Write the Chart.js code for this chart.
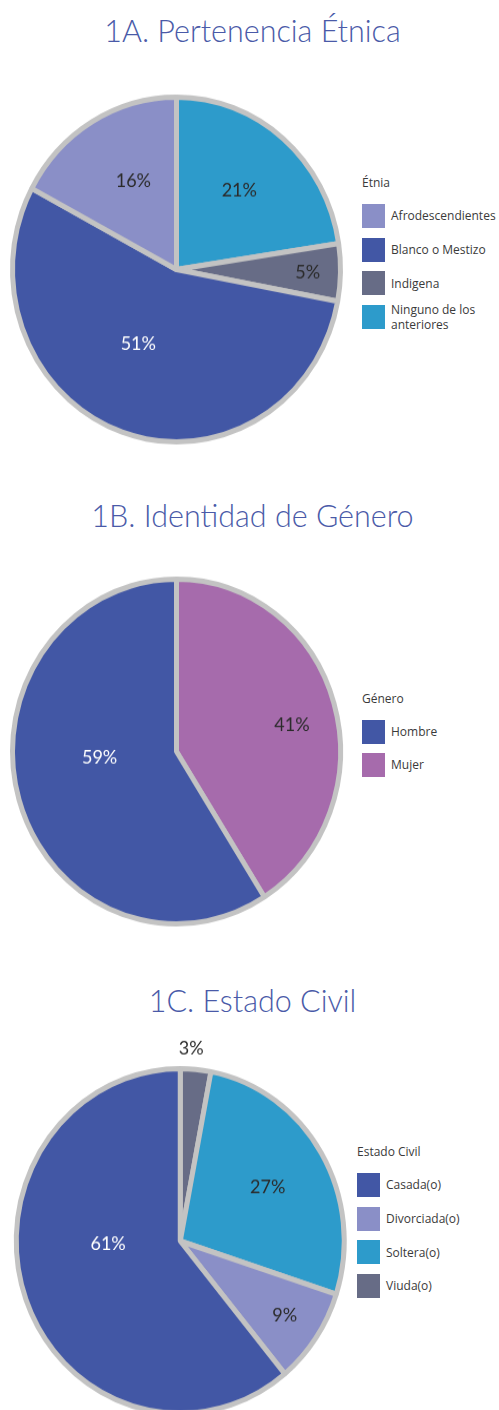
<!DOCTYPE html>
<html>
<head>
<meta charset="utf-8">
<script src="https://cdn.jsdelivr.net/npm/chart.js@4"></script>
<style>
  body { margin: 0; width: 499px; height: 1410px; overflow: hidden; position: relative; background: #fff; font-family: 'Open Sans', sans-serif; }
  .titulo { position: absolute; left: 0; width: 505px; margin: 0; text-align: center; font-family: Lato, sans-serif; font-weight: 300; font-size: 30.5px; line-height: 34px; color: #4a5aa8; }
  canvas { position: absolute; transform-origin: 0 0; transform: scaleY(1.051); }
  .leyenda { position: absolute; font-size: 12px; color: #3a3a3a; width: 140px; }
  .leyenda .tit { height: 20px; line-height: 20px; margin-bottom: 6px; }
  .item { display: flex; align-items: center; }
  .caja { width: 23px; height: 24px; margin-right: 6px; flex: none; }
  .texto { max-width: 110px; line-height: 15px; white-space: normal; }
</style>
</head>
<body>
<h2 class="titulo" style="top:13px">1A. Pertenencia Étnica</h2>
<canvas id="etnia" width="353" height="353" style="left:0;top:83.5px"></canvas>
<div class="leyenda" id="leyEtnia" style="left:362px;top:173px"></div>

<h2 class="titulo" style="top:498px">1B. Identidad de Género</h2>
<canvas id="genero" width="353" height="353" style="left:0;top:565.5px"></canvas>
<div class="leyenda" id="leyGenero" style="left:362px;top:689px"></div>

<h2 class="titulo" style="top:983px">1C. Estado Civil</h2>
<canvas id="civil" width="357" height="383" style="left:0;top:1024px"></canvas>
<div class="leyenda" id="leyCivil" style="left:357px;top:1142px"></div>

<script>
// datos (orden de dibujo, en sentido horario desde arriba)
const etniaLabels = ['Ninguno de los anteriores', 'Indigena', 'Blanco o Mestizo', 'Afrodescendientes'];
const etniaValues = [21, 5, 51, 16];

const generoLabels = ['Mujer', 'Hombre'];
const generoValues = [41, 59];

const civilLabels = ['Viuda(o)', 'Soltera(o)', 'Divorciada(o)', 'Casada(o)'];
const civilValues = [3, 27, 9, 61];

// colores
const AZUL = '#4257a5', LILA = '#8a8fc7', GRIS = '#676c86', CIAN = '#2d9bcb', ROSA = '#a66bac';

// plugin para los porcentajes sobre las porciones
const etiquetas = {
  id: 'etiquetas',
  afterDatasetsDraw(chart, args, opts) {
    const ctx = chart.ctx;
    const meta = chart.getDatasetMeta(0);
    const ds = chart.data.datasets[0];
    ctx.save();
    ctx.font = '18px Lato';
    ctx.textAlign = 'center';
    ctx.textBaseline = 'middle';
    meta.data.forEach((arc, i) => {
      const p = arc.getProps(['x', 'y', 'startAngle', 'endAngle', 'outerRadius'], true);
      const mid = (p.startAngle + p.endAngle) / 2 + (opts.giro[i] || 0) * Math.PI / 180;
      const r = p.outerRadius * opts.radio[i];
      ctx.fillStyle = opts.color[i];
      ctx.fillText(ds.data[i] + '%', p.x + Math.cos(mid) * r, p.y + Math.sin(mid) * r);
    });
    ctx.restore();
  }
};

function pastel(id, labels, values, colores, pad, etq, leyId, leyTitulo, espacio) {
  const chart = new Chart(document.getElementById(id), {
    type: 'pie',
    data: {
      labels: labels,
      datasets: [{
        data: values,
        backgroundColor: colores,
        borderColor: '#c3c3c3',
        borderWidth: 5,
        hoverBorderWidth: 5,
        hoverOffset: 0
      }]
    },
    options: {
      responsive: false,
      animation: false,
      events: [],
      layout: { padding: pad },
      plugins: {
        legend: { display: false },
        tooltip: { enabled: false },
        etiquetas: etq
      }
    },
    plugins: [etiquetas]
  });

  // leyenda en html (orden inverso al dibujo)
  const ley = document.getElementById(leyId);
  let html = '<div class="tit">' + leyTitulo + '</div>';
  const items = chart.options.plugins.legend.labels.generateLabels(chart).reverse();
  items.forEach(it => {
    html += '<div class="item" style="height:' + espacio + 'px"><div class="caja" style="background:' + it.fillStyle + '"></div><div class="texto">' + it.text + '</div></div>';
  });
  ley.innerHTML = html;
}

document.addEventListener('DOMContentLoaded', () => {
  pastel('etnia', etniaLabels, etniaValues, [CIAN, GRIS, AZUL, LILA],
    { left: 10, right: 10, top: 10, bottom: 10 },
    { radio: [0.6, 0.8, 0.49, 0.58], giro: [-1, 0, 9, 4], color: ['#2b2b2b', '#2b2b2b', '#fff', '#2b2b2b'] },
    'leyEtnia', 'Étnia', 33.7);

  pastel('genero', generoLabels, generoValues, [ROSA, AZUL],
    { left: 10, right: 10, top: 10, bottom: 10 },
    { radio: [0.72, 0.47], giro: [4, 12], color: ['#2b2b2b', '#fff'] },
    'leyGenero', 'Género', 33);

  pastel('civil', civilLabels, civilValues, [GRIS, CIAN, LILA, AZUL],
    { left: 13.5, right: 10, top: 40, bottom: 10 },
    { radio: [1.12, 0.62, 0.77, 0.44], giro: [-2, 0, 0, 18], color: ['#2b2b2b', '#2b2b2b', '#2b2b2b', '#fff'] },
    'leyCivil', 'Estado Civil', 33.7);
});
</script>
</body>
</html>
